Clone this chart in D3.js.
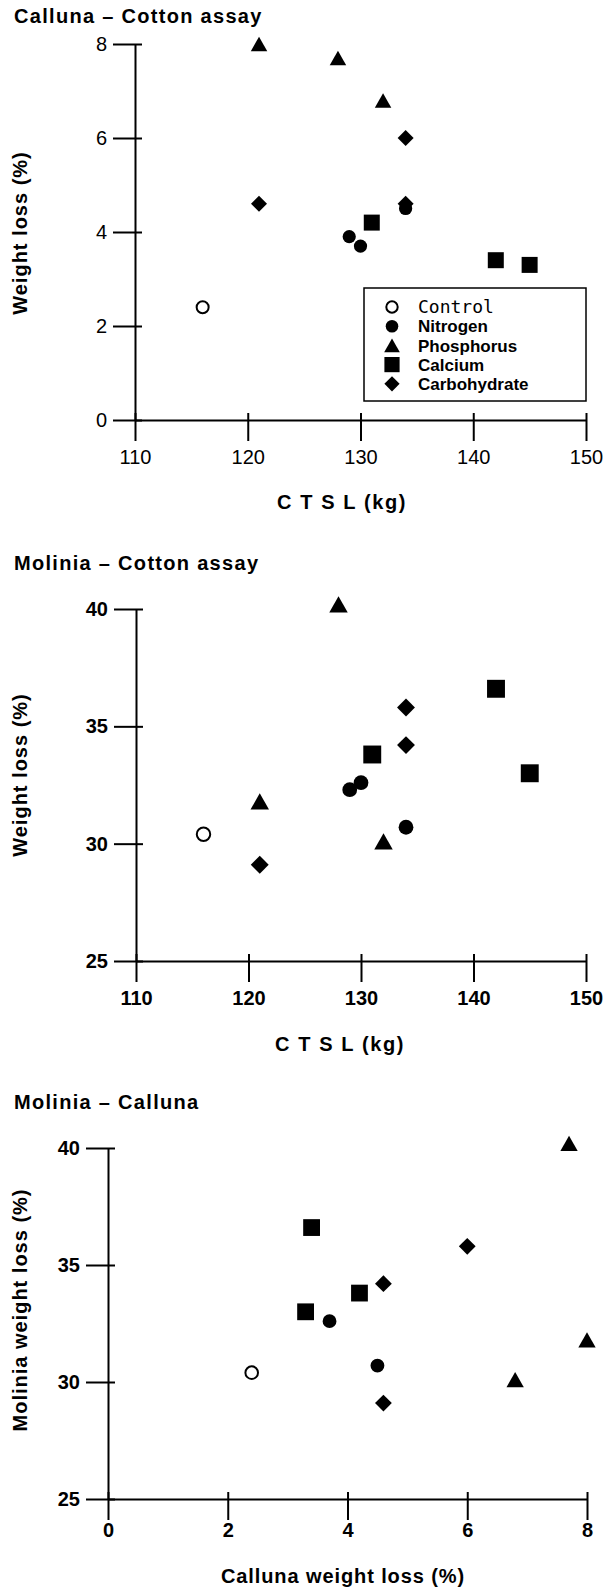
<!DOCTYPE html>
<html>
<head>
<meta charset="utf-8">
<script src="https://cdn.jsdelivr.net/npm/d3@7"></script>
<style>
  body { margin: 0; background: #fff; }
</style>
</head>
<body>
<svg id="chart"></svg>
<script>
(() => {

  // treatments in legend order
  const treatments = ['Control', 'Nitrogen', 'Phosphorus', 'Calcium', 'Carbohydrate'];
  const shapes = ['open', 'circle', 'triangle', 'square', 'diamond'];

  // one inner array per treatment, one value per plot
  const ctslKg = [[116], [129, 130, 134], [121, 128, 132], [131, 142, 145], [121, 134, 134]];
  const callunaLoss = [[2.4], [3.9, 3.7, 4.5], [8.0, 7.7, 6.8], [4.2, 3.4, 3.3], [4.6, 6.0, 4.6]];
  const moliniaLoss = [[30.4], [32.3, 32.6, 30.7], [31.8, 40.2, 30.1], [33.8, 36.6, 33.0], [29.1, 35.8, 34.2]];
  // plots that show up on the Molinia - Calluna panel
  const inCrossPanel = [[true], [false, true, true], [true, true, true], [true, true, true], [true, true, true]];

  const ctslTicks = [110, 120, 130, 140, 150];
  const callunaTicks = [0, 2, 4, 6, 8];
  const moliniaTicks = [25, 30, 35, 40];

  const rows = treatments.flatMap((name, i) => ctslKg[i].map((c, j) => ({
    name: name,
    shape: shapes[i],
    ctsl: c,
    calluna: callunaLoss[i][j],
    molinia: moliniaLoss[i][j],
    cross: inCrossPanel[i][j]
  })));

  const svg = d3.select('#chart')
    .attr('width', 607)
    .attr('height', 1591);

  const FONT = 'Liberation Sans, Arial, sans-serif';

  const triangle = {
    draw(ctx, size) {
      const s = Math.sqrt(size);
      ctx.moveTo(0, -0.44 * s);
      ctx.lineTo(0.5 * s, 0.44 * s);
      ctx.lineTo(-0.5 * s, 0.44 * s);
      ctx.closePath();
    }
  };
  const diamond = {
    draw(ctx, size) {
      const r = Math.sqrt(size) / 2;
      ctx.moveTo(0, -r);
      ctx.lineTo(r, 0);
      ctx.lineTo(0, r);
      ctx.lineTo(-r, 0);
      ctx.closePath();
    }
  };

  function marker(g, shape, cx, cy, k) {
    if (shape === 'open') {
      g.append('circle')
        .attr('cx', cx).attr('cy', cy).attr('r', 6 * k)
        .attr('fill', '#fff').attr('stroke', '#000').attr('stroke-width', 2);
      return;
    }
    let path;
    if (shape === 'circle') path = d3.symbol(d3.symbolCircle, Math.PI * Math.pow(6.6 * k, 2))();
    if (shape === 'square') path = d3.symbol(d3.symbolSquare, Math.pow(16 * k, 2))();
    if (shape === 'triangle') path = d3.symbol(triangle, Math.pow(16.5 * k, 2))();
    if (shape === 'diamond') path = d3.symbol(diamond, Math.pow(16 * k, 2))();
    g.append('path')
      .attr('transform', `translate(${cx},${cy})`)
      .attr('d', path)
      .attr('fill', '#000');
  }

  function drawPanel(p) {
    const xScale = d3.scaleLinear().domain(p.xDomain).range(p.xRange);
    const yScale = d3.scaleLinear().domain(p.yDomain).range(p.yRange);

    const gx = svg.append('g')
      .attr('transform', `translate(0,${p.yRange[0]})`)
      .call(d3.axisBottom(xScale).tickValues(p.xTicks).tickSizeInner(21).tickSizeOuter(0).tickPadding(p.xPad));
    gx.selectAll('.tick line').attr('y1', -7);

    const gy = svg.append('g')
      .attr('transform', `translate(${p.xRange[0]},0)`)
      .call(d3.axisLeft(yScale).tickValues(p.yTicks).tickSizeInner(22).tickSizeOuter(0).tickPadding(6));
    gy.selectAll('.tick line').attr('x1', 7);

    [gx, gy].forEach(ax => {
      ax.selectAll('path, line').attr('stroke', '#000').attr('stroke-width', 2);
      ax.selectAll('text')
        .attr('fill', '#000')
        .style('font-family', FONT)
        .style('font-size', '20px')
        .style('font-weight', p.tickWeight);
    });

    svg.append('text')
      .attr('x', 14)
      .attr('y', p.titleY)
      .style('font-family', FONT)
      .style('font-size', '20px')
      .style('font-weight', 'bold')
      .style('letter-spacing', '1.3px')
      .text(p.title);

    svg.append('text')
      .attr('transform', `translate(${p.xTitle[0]},${p.xTitle[1]})`)
      .attr('text-anchor', 'middle')
      .attr('dy', '0.35em')
      .style('font-family', FONT)
      .style('font-size', '20px')
      .style('font-weight', 'bold')
      .style('letter-spacing', p.xTitleSpacing)
      .text(p.xLabel);

    svg.append('text')
      .attr('transform', `translate(20,${p.yTitleY}) rotate(-90)`)
      .attr('text-anchor', 'middle')
      .attr('dy', '0.35em')
      .style('font-family', FONT)
      .style('font-size', '20px')
      .style('font-weight', 'bold')
      .style('letter-spacing', '1px')
      .text(p.yLabel);

    const marks = svg.append('g');
    rows.filter(p.keep).forEach(d => {
      marker(marks, d.shape, xScale(p.xValue(d)), yScale(p.yValue(d)), p.k);
    });
  }

  drawPanel({
    title: 'Calluna – Cotton assay', titleY: 23,
    xDomain: [110, 150], xRange: [135, 586], xTicks: ctslTicks, xPad: 9,
    yDomain: [0, 8], yRange: [420, 44], yTicks: callunaTicks,
    tickWeight: 'normal', k: 1,
    xLabel: 'C T S L (kg)', xTitle: [342, 502], xTitleSpacing: '1.6px',
    yLabel: 'Weight loss (%)', yTitleY: 233,
    keep: () => true, xValue: d => d.ctsl, yValue: d => d.calluna
  });

  drawPanel({
    title: 'Molinia – Cotton assay', titleY: 570,
    xDomain: [110, 150], xRange: [136, 586], xTicks: ctslTicks, xPad: 9,
    yDomain: [25, 40], yRange: [961, 609], yTicks: moliniaTicks,
    tickWeight: 'bold', k: 1.12,
    xLabel: 'C T S L (kg)', xTitle: [340, 1044], xTitleSpacing: '1.6px',
    yLabel: 'Weight loss (%)', yTitleY: 775,
    keep: () => true, xValue: d => d.ctsl, yValue: d => d.molinia
  });

  drawPanel({
    title: 'Molinia – Calluna', titleY: 1109,
    xDomain: [0, 8], xRange: [108, 587], xTicks: callunaTicks, xPad: 3,
    yDomain: [25, 40], yRange: [1499, 1148], yTicks: moliniaTicks,
    tickWeight: 'bold', k: 1.05,
    xLabel: 'Calluna weight loss (%)', xTitle: [343, 1576], xTitleSpacing: '0.9px',
    yLabel: 'Molinia weight loss (%)', yTitleY: 1310,
    keep: d => d.cross, xValue: d => d.calluna, yValue: d => d.molinia
  });

  // legend of the first panel
  const legend = svg.append('g');
  legend.append('rect')
    .attr('x', 364).attr('y', 288)
    .attr('width', 222).attr('height', 113)
    .attr('fill', '#fff')
    .attr('stroke', '#000')
    .attr('stroke-width', 1.5);

  treatments.forEach((name, i) => {
    const ly = 307 + i * 19.2;
    marker(legend, shapes[i], 392, ly, 0.95);
    legend.append('text')
      .attr('x', 418)
      .attr('y', ly)
      .attr('dy', '0.36em')
      .style('font-family', i === 0 ? 'DejaVu Sans Mono, monospace' : FONT)
      .style('font-size', i === 0 ? '18px' : '17px')
      .style('font-weight', i === 0 ? 'normal' : 'bold')
      .text(name);
  });

})();
</script>
</body>
</html>
